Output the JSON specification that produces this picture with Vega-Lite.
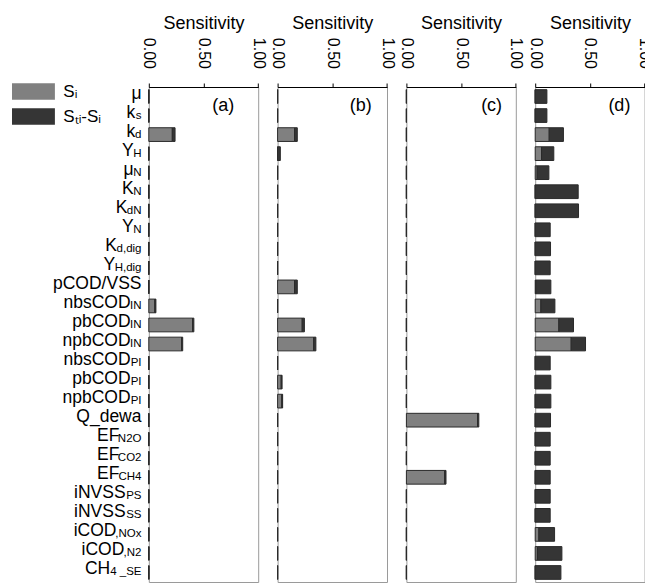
{
  "$schema": "https://vega.github.io/schema/vega-lite/v6.json",
  "padding": {"left": 0, "top": 13, "right": 0, "bottom": 0},
  "autosize": {"type": "pad"},
  "bounds": "flush",
  "spacing": 18.8,
  "datasets": {
    "labels": [
      {"p": "mu", "main": "μ", "sub": ""},
      {"p": "ks", "main": "k", "sub": "s"},
      {"p": "kd", "main": "k", "sub": "d"},
      {"p": "YH", "main": "Y", "sub": "H"},
      {"p": "muN", "main": "μ", "sub": "N"},
      {"p": "KN", "main": "K", "sub": "N"},
      {"p": "KdN", "main": "K", "sub": "dN"},
      {"p": "YN", "main": "Y", "sub": "N"},
      {"p": "Kddig", "main": "K", "sub": "d,dig"},
      {"p": "YHdig", "main": "Y", "sub": "H,dig"},
      {"p": "pCODVSS", "main": "pCOD/VSS", "sub": ""},
      {"p": "nbsCODIN", "main": "nbsCOD", "sub": "IN"},
      {"p": "pbCODIN", "main": "pbCOD", "sub": "IN"},
      {"p": "npbCODIN", "main": "npbCOD", "sub": "IN"},
      {"p": "nbsCODPI", "main": "nbsCOD", "sub": "PI"},
      {"p": "pbCODPI", "main": "pbCOD", "sub": "PI"},
      {"p": "npbCODPI", "main": "npbCOD", "sub": "PI"},
      {"p": "Qdewa", "main": "Q_dewa", "sub": ""},
      {"p": "EFN2O", "main": "EF", "sub": "N2O"},
      {"p": "EFCO2", "main": "EF", "sub": "CO2"},
      {"p": "EFCH4", "main": "EF", "sub": "CH4"},
      {"p": "iNVSSPS", "main": "iNVSS", "sub": "PS"},
      {"p": "iNVSSSS", "main": "iNVSS", "sub": "SS"},
      {"p": "iCODNOx", "main": "iCOD", "sub": ",NOx"},
      {"p": "iCODN2", "main": "iCOD", "sub": ",N2"},
      {"p": "CH4SE", "main": "CH", "sub": "4 _SE"}
    ],
    "sens": [
      {"panel": "a", "p": "mu", "Si": 0, "STi-Si": 0},
      {"panel": "a", "p": "ks", "Si": 0, "STi-Si": 0},
      {"panel": "a", "p": "kd", "Si": 0.215, "STi-Si": 0.025},
      {"panel": "a", "p": "YH", "Si": 0, "STi-Si": 0},
      {"panel": "a", "p": "muN", "Si": 0, "STi-Si": 0},
      {"panel": "a", "p": "KN", "Si": 0, "STi-Si": 0},
      {"panel": "a", "p": "KdN", "Si": 0, "STi-Si": 0},
      {"panel": "a", "p": "YN", "Si": 0, "STi-Si": 0},
      {"panel": "a", "p": "Kddig", "Si": 0, "STi-Si": 0},
      {"panel": "a", "p": "YHdig", "Si": 0, "STi-Si": 0},
      {"panel": "a", "p": "pCODVSS", "Si": 0, "STi-Si": 0},
      {"panel": "a", "p": "nbsCODIN", "Si": 0.055, "STi-Si": 0.01},
      {"panel": "a", "p": "pbCODIN", "Si": 0.4, "STi-Si": 0.012},
      {"panel": "a", "p": "npbCODIN", "Si": 0.3, "STi-Si": 0.01},
      {"panel": "a", "p": "nbsCODPI", "Si": 0, "STi-Si": 0},
      {"panel": "a", "p": "pbCODPI", "Si": 0, "STi-Si": 0},
      {"panel": "a", "p": "npbCODPI", "Si": 0, "STi-Si": 0},
      {"panel": "a", "p": "Qdewa", "Si": 0, "STi-Si": 0},
      {"panel": "a", "p": "EFN2O", "Si": 0, "STi-Si": 0},
      {"panel": "a", "p": "EFCO2", "Si": 0, "STi-Si": 0},
      {"panel": "a", "p": "EFCH4", "Si": 0, "STi-Si": 0},
      {"panel": "a", "p": "iNVSSPS", "Si": 0, "STi-Si": 0},
      {"panel": "a", "p": "iNVSSSS", "Si": 0, "STi-Si": 0},
      {"panel": "a", "p": "iCODNOx", "Si": 0, "STi-Si": 0},
      {"panel": "a", "p": "iCODN2", "Si": 0, "STi-Si": 0},
      {"panel": "a", "p": "CH4SE", "Si": 0, "STi-Si": 0},
      {"panel": "b", "p": "mu", "Si": 0, "STi-Si": 0},
      {"panel": "b", "p": "ks", "Si": 0, "STi-Si": 0},
      {"panel": "b", "p": "kd", "Si": 0.155, "STi-Si": 0.025},
      {"panel": "b", "p": "YH", "Si": 0, "STi-Si": 0.025},
      {"panel": "b", "p": "muN", "Si": 0, "STi-Si": 0},
      {"panel": "b", "p": "KN", "Si": 0, "STi-Si": 0},
      {"panel": "b", "p": "KdN", "Si": 0, "STi-Si": 0},
      {"panel": "b", "p": "YN", "Si": 0, "STi-Si": 0},
      {"panel": "b", "p": "Kddig", "Si": 0, "STi-Si": 0},
      {"panel": "b", "p": "YHdig", "Si": 0, "STi-Si": 0},
      {"panel": "b", "p": "pCODVSS", "Si": 0.155, "STi-Si": 0.025},
      {"panel": "b", "p": "nbsCODIN", "Si": 0, "STi-Si": 0},
      {"panel": "b", "p": "pbCODIN", "Si": 0.225, "STi-Si": 0.02},
      {"panel": "b", "p": "npbCODIN", "Si": 0.33, "STi-Si": 0.02},
      {"panel": "b", "p": "nbsCODPI", "Si": 0, "STi-Si": 0},
      {"panel": "b", "p": "pbCODPI", "Si": 0.033, "STi-Si": 0.008},
      {"panel": "b", "p": "npbCODPI", "Si": 0.038, "STi-Si": 0.008},
      {"panel": "b", "p": "Qdewa", "Si": 0, "STi-Si": 0},
      {"panel": "b", "p": "EFN2O", "Si": 0, "STi-Si": 0},
      {"panel": "b", "p": "EFCO2", "Si": 0, "STi-Si": 0},
      {"panel": "b", "p": "EFCH4", "Si": 0, "STi-Si": 0},
      {"panel": "b", "p": "iNVSSPS", "Si": 0, "STi-Si": 0},
      {"panel": "b", "p": "iNVSSSS", "Si": 0, "STi-Si": 0},
      {"panel": "b", "p": "iCODNOx", "Si": 0, "STi-Si": 0},
      {"panel": "b", "p": "iCODN2", "Si": 0, "STi-Si": 0},
      {"panel": "b", "p": "CH4SE", "Si": 0, "STi-Si": 0},
      {"panel": "c", "p": "mu", "Si": 0, "STi-Si": 0},
      {"panel": "c", "p": "ks", "Si": 0, "STi-Si": 0},
      {"panel": "c", "p": "kd", "Si": 0, "STi-Si": 0},
      {"panel": "c", "p": "YH", "Si": 0, "STi-Si": 0},
      {"panel": "c", "p": "muN", "Si": 0, "STi-Si": 0},
      {"panel": "c", "p": "KN", "Si": 0, "STi-Si": 0},
      {"panel": "c", "p": "KdN", "Si": 0, "STi-Si": 0},
      {"panel": "c", "p": "YN", "Si": 0, "STi-Si": 0},
      {"panel": "c", "p": "Kddig", "Si": 0, "STi-Si": 0},
      {"panel": "c", "p": "YHdig", "Si": 0, "STi-Si": 0},
      {"panel": "c", "p": "pCODVSS", "Si": 0, "STi-Si": 0},
      {"panel": "c", "p": "nbsCODIN", "Si": 0, "STi-Si": 0},
      {"panel": "c", "p": "pbCODIN", "Si": 0, "STi-Si": 0},
      {"panel": "c", "p": "npbCODIN", "Si": 0, "STi-Si": 0},
      {"panel": "c", "p": "nbsCODPI", "Si": 0, "STi-Si": 0},
      {"panel": "c", "p": "pbCODPI", "Si": 0, "STi-Si": 0},
      {"panel": "c", "p": "npbCODPI", "Si": 0, "STi-Si": 0},
      {"panel": "c", "p": "Qdewa", "Si": 0.65, "STi-Si": 0.012},
      {"panel": "c", "p": "EFN2O", "Si": 0, "STi-Si": 0},
      {"panel": "c", "p": "EFCO2", "Si": 0, "STi-Si": 0},
      {"panel": "c", "p": "EFCH4", "Si": 0.35, "STi-Si": 0.012},
      {"panel": "c", "p": "iNVSSPS", "Si": 0, "STi-Si": 0},
      {"panel": "c", "p": "iNVSSSS", "Si": 0, "STi-Si": 0},
      {"panel": "c", "p": "iCODNOx", "Si": 0, "STi-Si": 0},
      {"panel": "c", "p": "iCODN2", "Si": 0, "STi-Si": 0},
      {"panel": "c", "p": "CH4SE", "Si": 0, "STi-Si": 0},
      {"panel": "d", "p": "mu", "Si": 0, "STi-Si": 0.107},
      {"panel": "d", "p": "ks", "Si": 0, "STi-Si": 0.107},
      {"panel": "d", "p": "kd", "Si": 0.128, "STi-Si": 0.13},
      {"panel": "d", "p": "YH", "Si": 0.058, "STi-Si": 0.112},
      {"panel": "d", "p": "muN", "Si": 0.018, "STi-Si": 0.107},
      {"panel": "d", "p": "KN", "Si": 0, "STi-Si": 0.393},
      {"panel": "d", "p": "KdN", "Si": 0, "STi-Si": 0.396},
      {"panel": "d", "p": "YN", "Si": 0, "STi-Si": 0.137},
      {"panel": "d", "p": "Kddig", "Si": 0, "STi-Si": 0.14},
      {"panel": "d", "p": "YHdig", "Si": 0, "STi-Si": 0.137},
      {"panel": "d", "p": "pCODVSS", "Si": 0.005, "STi-Si": 0.138},
      {"panel": "d", "p": "nbsCODIN", "Si": 0.052, "STi-Si": 0.128},
      {"panel": "d", "p": "pbCODIN", "Si": 0.216, "STi-Si": 0.134},
      {"panel": "d", "p": "npbCODIN", "Si": 0.329, "STi-Si": 0.131},
      {"panel": "d", "p": "nbsCODPI", "Si": 0, "STi-Si": 0.137},
      {"panel": "d", "p": "pbCODPI", "Si": 0, "STi-Si": 0.143},
      {"panel": "d", "p": "npbCODPI", "Si": 0, "STi-Si": 0.143},
      {"panel": "d", "p": "Qdewa", "Si": 0, "STi-Si": 0.14},
      {"panel": "d", "p": "EFN2O", "Si": 0, "STi-Si": 0.137},
      {"panel": "d", "p": "EFCO2", "Si": 0, "STi-Si": 0.137},
      {"panel": "d", "p": "EFCH4", "Si": 0, "STi-Si": 0.137},
      {"panel": "d", "p": "iNVSSPS", "Si": 0, "STi-Si": 0.137},
      {"panel": "d", "p": "iNVSSSS", "Si": 0, "STi-Si": 0.137},
      {"panel": "d", "p": "iCODNOx", "Si": 0.034, "STi-Si": 0.143},
      {"panel": "d", "p": "iCODN2", "Si": 0.02, "STi-Si": 0.224},
      {"panel": "d", "p": "CH4SE", "Si": 0, "STi-Si": 0.235}
    ]
  },
  "hconcat": [
    {
      "width": 129.5,
      "height": 495,
      "view": {"stroke": null},
      "data": {"name": "labels"},
      "encoding": {
        "y": {"field": "p", "type": "nominal", "sort": ["mu","ks","kd","YH","muN","KN","KdN","YN","Kddig","YHdig","pCODVSS","nbsCODIN","pbCODIN","npbCODIN","nbsCODPI","pbCODPI","npbCODPI","Qdewa","EFN2O","EFCO2","EFCH4","iNVSSPS","iNVSSSS","iCODNOx","iCODN2","CH4SE"], "scale": {"paddingInner": 0.28, "paddingOuter": 0.14}, "axis": null},
        "x": {"datum": 1, "type": "quantitative", "scale": {"domain": [0, 1]}, "axis": null}
      },
      "layer": [
        {
          "mark": {"type": "text", "align": "right", "baseline": "alphabetic", "fontSize": 17.5, "color": "black", "dy": 2,
                   "dx": {"expr": "12 - 11.5*(0.69*length(replace(datum.sub, regexp('[^A-HJ-Z]','g'), '')) + 0.26*length(replace(datum.sub, regexp('[^I,i ]','g'), '')) + 0.54*length(replace(datum.sub, regexp('[^a-hj-z0-9_]','g'), '')))"}},
          "encoding": {"text": {"field": "main"}}
        },
        {
          "mark": {"type": "text", "align": "right", "baseline": "alphabetic", "fontSize": 11.5, "color": "black", "dy": 3, "dx": 12},
          "encoding": {"text": {"field": "sub"}}
        }
      ]
    },
    {
      "width": 109.4, "height": 495,
      "layer": [
        {
          "data": {"name": "sens"},
          "transform": [{"filter": "datum.panel == 'a'"}, {"fold": ["Si", "STi-Si"], "as": ["comp", "v"]}],
          "mark": {"type": "bar", "stroke": "#2a2a2a", "strokeWidth": 1},
          "encoding": {
            "y": {"field": "p", "type": "nominal", "sort": ["mu","ks","kd","YH","muN","KN","KdN","YN","Kddig","YHdig","pCODVSS","nbsCODIN","pbCODIN","npbCODIN","nbsCODPI","pbCODPI","npbCODPI","Qdewa","EFN2O","EFCO2","EFCH4","iNVSSPS","iNVSSSS","iCODNOx","iCODN2","CH4SE"], "scale": {"paddingInner": 0.28, "paddingOuter": 0.14}, "axis": null},
            "x": {"field": "v", "type": "quantitative", "stack": "zero", "scale": {"domain": [0, 1], "nice": false}, "axis": {"orient": "top", "title": "Sensitivity", "values": [0, 0.5, 1], "format": ".2f"}},
            "color": {"field": "comp", "type": "nominal", "scale": {"domain": ["Si", "STi-Si"], "range": ["#808080", "#353535"]}, "legend": {"title": null, "orient": "none", "legendX": 12, "legendY": -12, "labelExpr": "datum.label == 'Si' ? 'Sᵢ' : 'Sₜᵢ-Sᵢ'"}},
            "order": {"field": "comp", "sort": "descending"}
          }
        },
        {
          "data": {"values": [{"tag": "(a)"}]},
          "mark": {"type": "text", "align": "right", "baseline": "middle", "fontSize": 18, "dy": 9, "color": "black"},
          "encoding": {"x": {"datum": 0.78, "type": "quantitative"}, "y": {"datum": "mu", "type": "nominal"}, "text": {"field": "tag"}}
        }
      ]
    },
    {
      "width": 109.4, "height": 495,
      "layer": [
        {
          "data": {"name": "sens"},
          "transform": [{"filter": "datum.panel == 'b'"}, {"fold": ["Si", "STi-Si"], "as": ["comp", "v"]}],
          "mark": {"type": "bar", "stroke": "#2a2a2a", "strokeWidth": 1},
          "encoding": {
            "y": {"field": "p", "type": "nominal", "sort": ["mu","ks","kd","YH","muN","KN","KdN","YN","Kddig","YHdig","pCODVSS","nbsCODIN","pbCODIN","npbCODIN","nbsCODPI","pbCODPI","npbCODPI","Qdewa","EFN2O","EFCO2","EFCH4","iNVSSPS","iNVSSSS","iCODNOx","iCODN2","CH4SE"], "scale": {"paddingInner": 0.28, "paddingOuter": 0.14}, "axis": null},
            "x": {"field": "v", "type": "quantitative", "stack": "zero", "scale": {"domain": [0, 1], "nice": false}, "axis": {"orient": "top", "title": "Sensitivity", "values": [0, 0.5, 1], "format": ".2f"}},
            "color": {"field": "comp", "type": "nominal", "scale": {"domain": ["Si", "STi-Si"], "range": ["#808080", "#353535"]}, "legend": {"title": null, "orient": "none", "legendX": 12, "legendY": -12, "labelExpr": "datum.label == 'Si' ? 'Sᵢ' : 'Sₜᵢ-Sᵢ'"}},
            "order": {"field": "comp", "sort": "descending"}
          }
        },
        {
          "data": {"values": [{"tag": "(b)"}]},
          "mark": {"type": "text", "align": "right", "baseline": "middle", "fontSize": 18, "dy": 9, "color": "black"},
          "encoding": {"x": {"datum": 0.86, "type": "quantitative"}, "y": {"datum": "mu", "type": "nominal"}, "text": {"field": "tag"}}
        }
      ]
    },
    {
      "width": 109.4, "height": 495,
      "layer": [
        {
          "data": {"name": "sens"},
          "transform": [{"filter": "datum.panel == 'c'"}, {"fold": ["Si", "STi-Si"], "as": ["comp", "v"]}],
          "mark": {"type": "bar", "stroke": "#2a2a2a", "strokeWidth": 1},
          "encoding": {
            "y": {"field": "p", "type": "nominal", "sort": ["mu","ks","kd","YH","muN","KN","KdN","YN","Kddig","YHdig","pCODVSS","nbsCODIN","pbCODIN","npbCODIN","nbsCODPI","pbCODPI","npbCODPI","Qdewa","EFN2O","EFCO2","EFCH4","iNVSSPS","iNVSSSS","iCODNOx","iCODN2","CH4SE"], "scale": {"paddingInner": 0.28, "paddingOuter": 0.14}, "axis": null},
            "x": {"field": "v", "type": "quantitative", "stack": "zero", "scale": {"domain": [0, 1], "nice": false}, "axis": {"orient": "top", "title": "Sensitivity", "values": [0, 0.5, 1], "format": ".2f"}},
            "color": {"field": "comp", "type": "nominal", "scale": {"domain": ["Si", "STi-Si"], "range": ["#808080", "#353535"]}, "legend": {"title": null, "orient": "none", "legendX": 12, "legendY": -12, "labelExpr": "datum.label == 'Si' ? 'Sᵢ' : 'Sₜᵢ-Sᵢ'"}},
            "order": {"field": "comp", "sort": "descending"}
          }
        },
        {
          "data": {"values": [{"tag": "(c)"}]},
          "mark": {"type": "text", "align": "right", "baseline": "middle", "fontSize": 18, "dy": 9, "color": "black"},
          "encoding": {"x": {"datum": 0.875, "type": "quantitative"}, "y": {"datum": "mu", "type": "nominal"}, "text": {"field": "tag"}}
        }
      ]
    },
    {
      "width": 109.4, "height": 495,
      "layer": [
        {
          "data": {"name": "sens"},
          "transform": [{"filter": "datum.panel == 'd'"}, {"fold": ["Si", "STi-Si"], "as": ["comp", "v"]}],
          "mark": {"type": "bar", "stroke": "#2a2a2a", "strokeWidth": 1},
          "encoding": {
            "y": {"field": "p", "type": "nominal", "sort": ["mu","ks","kd","YH","muN","KN","KdN","YN","Kddig","YHdig","pCODVSS","nbsCODIN","pbCODIN","npbCODIN","nbsCODPI","pbCODPI","npbCODPI","Qdewa","EFN2O","EFCO2","EFCH4","iNVSSPS","iNVSSSS","iCODNOx","iCODN2","CH4SE"], "scale": {"paddingInner": 0.28, "paddingOuter": 0.14}, "axis": null},
            "x": {"field": "v", "type": "quantitative", "stack": "zero", "scale": {"domain": [0, 1], "nice": false}, "axis": {"orient": "top", "title": "Sensitivity", "values": [0, 0.5, 1], "format": ".2f"}},
            "color": {"field": "comp", "type": "nominal", "scale": {"domain": ["Si", "STi-Si"], "range": ["#808080", "#353535"]}, "legend": {"title": null, "orient": "none", "legendX": 12, "legendY": -12, "labelExpr": "datum.label == 'Si' ? 'Sᵢ' : 'Sₜᵢ-Sᵢ'"}},
            "order": {"field": "comp", "sort": "descending"}
          }
        },
        {
          "data": {"values": [{"tag": "(d)"}]},
          "mark": {"type": "text", "align": "right", "baseline": "middle", "fontSize": 18, "dy": 9, "color": "black"},
          "encoding": {"x": {"datum": 0.87, "type": "quantitative"}, "y": {"datum": "mu", "type": "nominal"}, "text": {"field": "tag"}}
        }
      ]
    }
  ],
  "resolve": {"scale": {"color": "shared"}, "legend": {"color": "shared"}},
  "config": {
    "font": "Liberation Sans",
    "view": {"stroke": "#9a9a9a", "strokeWidth": 1},
    "axis": {
      "labelAngle": 90, "labelAlign": "right", "labelBaseline": "middle", "labelFontSize": 16, "labelPadding": 14.5,
      "labelColor": "black", "labelFlush": false, "labelOverlap": false,
      "tickSize": 4, "tickColor": "black", "domainColor": "black", "grid": false,
      "titleFontSize": 18, "titleFontWeight": "normal", "titleColor": "black", "titlePadding": 5
    },
    "legend": {
      "symbolType": "M-1,-0.5H1.6V0.5H-1Z", "symbolSize": 1089, "symbolStrokeWidth": 0, "symbolOpacity": 1,
      "labelFontSize": 17, "labelColor": "black", "labelOffset": 18.3, "rowPadding": -6, "padding": 0
    }
  }
}
